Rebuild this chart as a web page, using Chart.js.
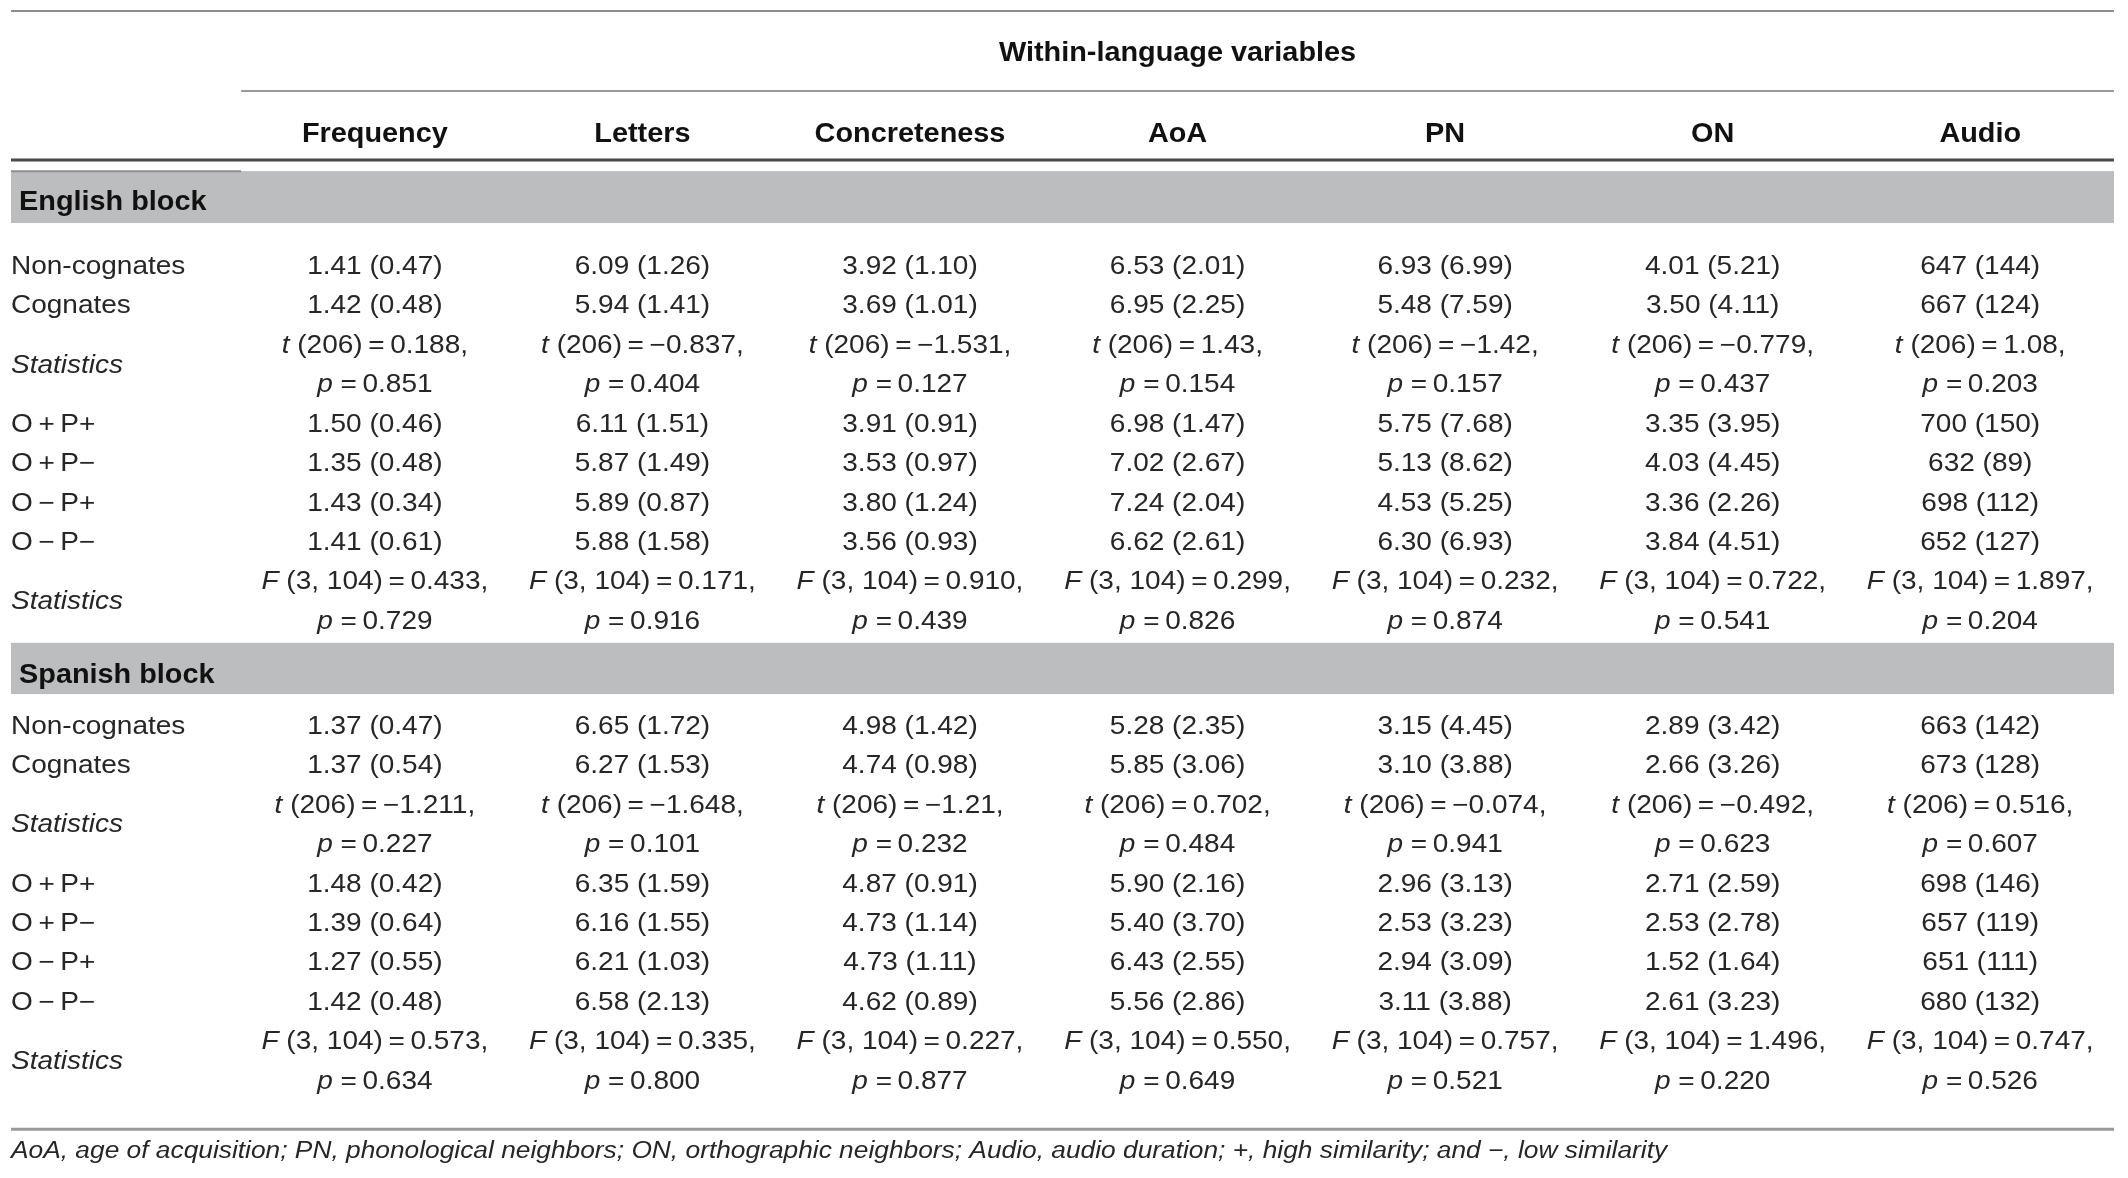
<!DOCTYPE html>
<html>
<head>
<meta charset="utf-8">
<script src="https://cdn.jsdelivr.net/npm/chart.js@4.4.0/dist/chart.umd.min.js"></script>
<style>
  html, body { margin: 0; padding: 0; background: #fff; }
  canvas { display: block; }
</style>
</head>
<body>
<canvas id="table" width="2128" height="1178"></canvas>
<script>
// Table headers
const title = "Within-language variables";
const columns = ["Frequency", "Letters", "Concreteness", "AoA", "PN", "ON", "Audio"];
const blocks = ["English block", "Spanish block"];
const rowLabels = ["Non-cognates", "Cognates", "O\u2009+\u2009P+", "O\u2009+\u2009P\u2212", "O\u2009\u2212\u2009P+", "O\u2009\u2212\u2009P\u2212"];
const statLabel = "Statistics";
const footnote = "AoA, age of acquisition; PN, phonological neighbors; ON, orthographic neighbors; Audio, audio duration; +, high similarity; and \u2212, low similarity";

// English block: mean (SD) per row, then t-test and F-test per column
const englishDesc = [
  ["1.41 (0.47)", "6.09 (1.26)", "3.92 (1.10)", "6.53 (2.01)", "6.93 (6.99)", "4.01 (5.21)", "647 (144)"],
  ["1.42 (0.48)", "5.94 (1.41)", "3.69 (1.01)", "6.95 (2.25)", "5.48 (7.59)", "3.50 (4.11)", "667 (124)"],
  ["1.50 (0.46)", "6.11 (1.51)", "3.91 (0.91)", "6.98 (1.47)", "5.75 (7.68)", "3.35 (3.95)", "700 (150)"],
  ["1.35 (0.48)", "5.87 (1.49)", "3.53 (0.97)", "7.02 (2.67)", "5.13 (8.62)", "4.03 (4.45)", "632 (89)"],
  ["1.43 (0.34)", "5.89 (0.87)", "3.80 (1.24)", "7.24 (2.04)", "4.53 (5.25)", "3.36 (2.26)", "698 (112)"],
  ["1.41 (0.61)", "5.88 (1.58)", "3.56 (0.93)", "6.62 (2.61)", "6.30 (6.93)", "3.84 (4.51)", "652 (127)"]
];
const englishT = ["0.188", "\u22120.837", "\u22121.531", "1.43", "\u22121.42", "\u22120.779", "1.08"];
const englishTp = ["0.851", "0.404", "0.127", "0.154", "0.157", "0.437", "0.203"];
const englishF = ["0.433", "0.171", "0.910", "0.299", "0.232", "0.722", "1.897"];
const englishFp = ["0.729", "0.916", "0.439", "0.826", "0.874", "0.541", "0.204"];

// Spanish block
const spanishDesc = [
  ["1.37 (0.47)", "6.65 (1.72)", "4.98 (1.42)", "5.28 (2.35)", "3.15 (4.45)", "2.89 (3.42)", "663 (142)"],
  ["1.37 (0.54)", "6.27 (1.53)", "4.74 (0.98)", "5.85 (3.06)", "3.10 (3.88)", "2.66 (3.26)", "673 (128)"],
  ["1.48 (0.42)", "6.35 (1.59)", "4.87 (0.91)", "5.90 (2.16)", "2.96 (3.13)", "2.71 (2.59)", "698 (146)"],
  ["1.39 (0.64)", "6.16 (1.55)", "4.73 (1.14)", "5.40 (3.70)", "2.53 (3.23)", "2.53 (2.78)", "657 (119)"],
  ["1.27 (0.55)", "6.21 (1.03)", "4.73 (1.11)", "6.43 (2.55)", "2.94 (3.09)", "1.52 (1.64)", "651 (111)"],
  ["1.42 (0.48)", "6.58 (2.13)", "4.62 (0.89)", "5.56 (2.86)", "3.11 (3.88)", "2.61 (3.23)", "680 (132)"]
];
const spanishT = ["\u22121.211", "\u22121.648", "\u22121.21", "0.702", "\u22120.074", "\u22120.492", "0.516"];
const spanishTp = ["0.227", "0.101", "0.232", "0.484", "0.941", "0.623", "0.607"];
const spanishF = ["0.573", "0.335", "0.227", "0.550", "0.757", "1.496", "0.747"];
const spanishFp = ["0.634", "0.800", "0.877", "0.649", "0.521", "0.220", "0.526"];

// Layout (x = column index, y = text line index)
const STUB = -0.36;          // left edge of the table, in column units
const BLOCK_START = [0, 11.66];
const BAND = [[-2.38, -1.065, -1.65], [9.58, 10.88, 10.345]];
const FONT = '"Liberation Sans", Arial, Helvetica, sans-serif';

const styles = {
  body: { size: 25, color: "#262626", stretch: 1.12 },
  stub: { size: 25, color: "#262626", stretch: 1.12, align: "left" },
  head: { size: 28, color: "#111", bold: true, stretch: 1.03 },
  band: { size: 28, color: "#111", bold: true, stretch: 1.03, align: "left" },
  note: { size: 23.5, color: "#262626", italic: true, stretch: 1.12, align: "left" }
};

const rules = [
  { y: -6.44, from: STUB, color: "#8c8c8c", width: 2 },
  { y: -4.41, from: 0.5, color: "#9a9a9a", width: 2 },
  { y: -2.66, from: STUB, color: "#4a4a4a", width: 3 },
  { y: -2.38, from: STUB, to: 0.5, color: "#8e8e8e", width: 2 },
  { y: 21.91, from: STUB, color: "#9a9a9a", width: 3 }
];

const plain = t => [{ t }];
const eq = "\u2009=\u2009";

// Build one point per text cell
const cells = [];
cells.push({ x: 4, y: -5.43, seg: plain(title), style: "head" });
columns.forEach((c, i) => cells.push({ x: i + 1, y: -3.37, seg: plain(c), style: "head" }));

[[englishDesc, englishT, englishTp, englishF, englishFp],
 [spanishDesc, spanishT, spanishTp, spanishF, spanishFp]].forEach((blk, b) => {
  const [desc, tv, tp, fv, fp] = blk;
  const y0 = BLOCK_START[b];
  cells.push({ x: STUB + 0.03, y: BAND[b][2], seg: plain(blocks[b]), style: "band" });
  // lines: desc0, desc1, t, p, desc2..desc5, F, p
  const descLines = [0, 1, 4, 5, 6, 7];
  desc.forEach((row, r) => {
    cells.push({ x: STUB, y: y0 + descLines[r], seg: plain(rowLabels[r]), style: "stub" });
    row.forEach((v, c) => cells.push({ x: c + 1, y: y0 + descLines[r], seg: plain(v), style: "body" }));
  });
  [2.5, 8.5].forEach(l => cells.push({ x: STUB, y: y0 + l, seg: [{ t: statLabel, it: true }], style: "stub" }));
  columns.forEach((_, c) => {
    cells.push({ x: c + 1, y: y0 + 2, seg: [{ t: "t", it: true }, { t: " (206)" + eq + tv[c] + "," }], style: "body" });
    cells.push({ x: c + 1, y: y0 + 3, seg: [{ t: "p", it: true }, { t: " =\u2009" + tp[c] }], style: "body" });
    cells.push({ x: c + 1, y: y0 + 8, seg: [{ t: "F", it: true }, { t: " (3, 104)" + eq + fv[c] + "," }], style: "body" });
    cells.push({ x: c + 1, y: y0 + 9, seg: [{ t: "p", it: true }, { t: " =\u2009" + fp[c] }], style: "body" });
  });
});
cells.push({ x: STUB, y: 22.43, seg: plain(footnote), style: "note" });

// Draw mixed italic / roman text, horizontally stretched, centred on its cap height
function drawRich(ctx, seg, x, y, st) {
  const fontFor = s => (s.it || st.italic ? "italic " : "") + (st.bold ? "bold " : "") + st.size + "px " + FONT;
  ctx.save();
  let w = 0;
  seg.forEach(s => { ctx.font = fontFor(s); w += ctx.measureText(s.t).width; });
  ctx.translate(x, y + st.size * 0.358);
  ctx.scale(st.stretch, 1);
  ctx.fillStyle = st.color;
  ctx.textAlign = "left";
  ctx.textBaseline = "alphabetic";
  let cx = st.align === "left" ? 0 : -w / 2;
  seg.forEach(s => {
    ctx.font = fontFor(s);
    ctx.fillText(s.t, cx, 0);
    cx += ctx.measureText(s.t).width;
  });
  ctx.restore();
}

const tablePlugin = {
  id: "tableText",
  beforeDatasetsDraw(chart) {
    const ctx = chart.ctx;
    const xs = chart.scales.x, ys = chart.scales.y;
    const right = xs.getPixelForValue(xs.max);
    ctx.save();
    // grey block bands
    ctx.fillStyle = "#bcbdbf";
    BAND.forEach(b => {
      const top = ys.getPixelForValue(b[0]), bot = ys.getPixelForValue(b[1]);
      const left = xs.getPixelForValue(STUB);
      ctx.fillRect(left, top, right - left, bot - top);
    });
    // horizontal rules
    rules.forEach(r => {
      const py = ys.getPixelForValue(r.y);
      ctx.strokeStyle = r.color;
      ctx.lineWidth = r.width;
      ctx.beginPath();
      ctx.moveTo(xs.getPixelForValue(r.from), py);
      ctx.lineTo(r.to !== undefined ? xs.getPixelForValue(r.to) : right, py);
      ctx.stroke();
    });
    ctx.restore();
  },
  afterDatasetsDraw(chart) {
    const ds = chart.data.datasets[0];
    chart.getDatasetMeta(0).data.forEach((pt, i) => {
      const cell = ds.data[i];
      drawRich(chart.ctx, cell.seg, pt.x, pt.y, styles[cell.style]);
    });
  }
};

new Chart(document.getElementById("table").getContext("2d"), {
  type: "scatter",
  data: { datasets: [{ data: cells, pointRadius: 0, pointHoverRadius: 0 }] },
  options: {
    responsive: false,
    devicePixelRatio: 1,
    animation: false,
    events: [],
    layout: { padding: { left: 11, right: 14, top: 0, bottom: 0 } },
    plugins: { legend: { display: false }, tooltip: { enabled: false } },
    scales: {
      x: { type: "linear", min: STUB, max: 7.5, display: false },
      y: { type: "linear", min: -6.719, max: 23.149, reverse: true, display: false }
    }
  },
  plugins: [tablePlugin]
});
</script>
</body>
</html>
